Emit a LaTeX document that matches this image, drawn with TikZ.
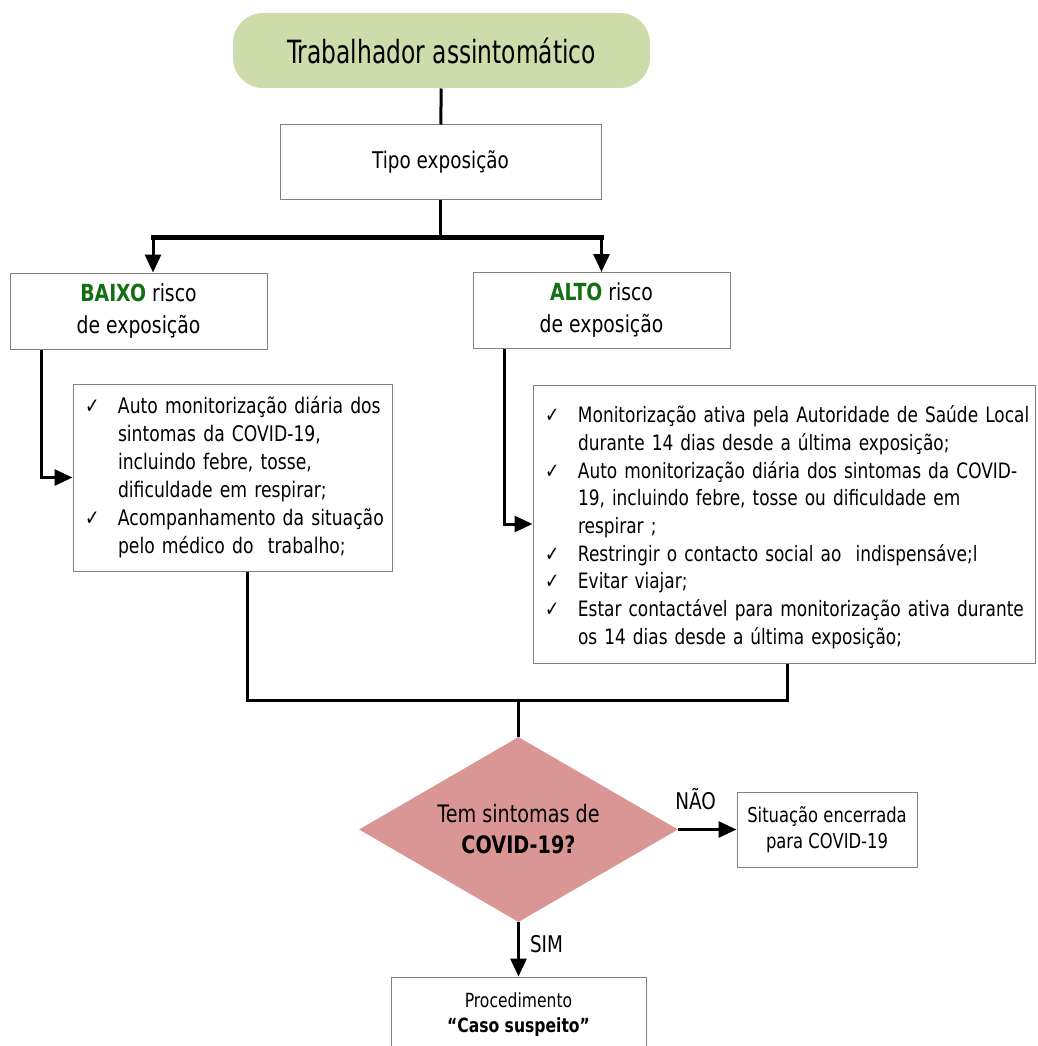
\documentclass[tikz,border=0pt]{standalone}
\usepackage{fontspec}
\setmainfont{DejaVu Sans}[FakeStretch=0.8]
\newfontfamily\titlefont{DejaVu Sans}[FakeStretch=0.73]
\usetikzlibrary{arrows.meta,shapes.geometric}
\definecolor{startgreen}{RGB}{206,220,172}
\definecolor{riskgreen}{RGB}{20,110,20}
\definecolor{decisionred}{RGB}{217,150,148}
\definecolor{boxgray}{RGB}{128,128,128}
\newcommand{\chk}{\makebox[33pt][l]{✓}}
\tikzset{
  box/.style={draw=boxgray, line width=1pt, fill=white, inner sep=0pt, align=center},
  listbox/.style={box, align=left, inner xsep=12pt, font=\fontsize{21.5}{28}\selectfont},
  flow/.style={line width=3pt},
  arrow/.style={flow, -{Triangle[length=18pt,width=16pt]}},
  answer/.style={inner sep=0pt, font=\fontsize{23}{26}\selectfont},
}
\begin{document}
\begin{tikzpicture}[x=1pt,y=-1pt]
      \clip (0,0) rectangle (1037,1046);
      \node[box, fill=startgreen, draw=none, rounded corners=30pt, minimum width=417pt, minimum height=75pt,
        font=\titlefont\fontsize{32}{36}\selectfont] (start) at (441.5,50.5) {Trabalhador assintomático};
      \node[box, minimum width=321pt, minimum height=74pt, font=\fontsize{23}{28}\selectfont]
        (tipo) at (440.5,162) {Tipo exposição};
      \node[box, minimum width=257pt, minimum height=76pt, font=\fontsize{23.5}{32}\selectfont]
        (baixo) at (138.5,311) {\textbf{\color{riskgreen}BAIXO} risco\\de exposição};
      \node[box, minimum width=257pt, minimum height=76pt, font=\fontsize{23.5}{32}\selectfont]
        (alto) at (601.5,310.5) {\textbf{\color{riskgreen}ALTO} risco\\de exposição};
      \node[listbox, text width=295pt, minimum height=187pt] (lowlist) at (232.5,477.5) {%
        \begin{tabular}{@{}l@{}l@{}}
          \chk & Auto monitorização diária dos\\
               & sintomas da COVID-19,\\
               & incluindo febre, tosse,\\
               & dificuldade em respirar;\\
          \chk & Acompanhamento da situação\\
               & pelo médico do \ trabalho;
        \end{tabular}};
      \node[listbox, text width=478pt, minimum height=278pt, inner ysep=4pt, font=\fontsize{21.2}{27.7}\selectfont]
        (highlist) at (784,524) {%
        \begin{tabular}{@{}l@{}l@{}}
          \chk & Monitorização ativa pela Autoridade de Saúde Local\\
               & durante 14 dias desde a última exposição;\\
          \chk & Auto monitorização diária dos sintomas da COVID-\\
               & 19, incluindo febre, tosse ou dificuldade em\\
               & respirar ;\\
          \chk & Restringir o contacto social ao \ indispensáve;l\\
          \chk & Evitar viajar;\\
          \chk & Estar contactável para monitorização ativa durante\\
               & os 14 dias desde a última exposição;\\[-8pt]
        \end{tabular}};
      \node[diamond, aspect=1.72, fill=decisionred, minimum width=319pt, minimum height=185pt, inner sep=0pt,
        align=center, font=\fontsize{24}{31}\selectfont] (symptoms) at (518.5,829.5)
        {Tem sintomas de\\\textbf{COVID-19?}};
      \node[box, minimum width=180pt, minimum height=75pt, font=\fontsize{20.5}{26}\selectfont]
        (closed) at (827,829.5) {Situação encerrada\\para COVID-19};
      \node[box, minimum width=255pt, minimum height=76pt, font=\fontsize{19.5}{25}\selectfont]
        (suspect) at (518.5,1015) {Procedimento\\\textbf{“Caso suspeito”}};
      \coordinate (splitL) at (153,237);
      \coordinate (splitR) at (alto.north |- splitL);
      \coordinate (join) at (symptoms.north |- 0,700);
      \begin{scope}[flow]
        \draw (start) -- (tipo);
        \draw (tipo) -- (tipo.south |- splitL);
        \draw[line width=5pt, line cap=rect] (splitL) -- (splitR);
        \draw[arrow] (splitL) -- (splitL |- baixo.north);
        \draw[arrow] (splitR) -- (alto.north);
        \draw[arrow] ([xshift=32pt]baixo.south west) |- (lowlist.west);
        \draw[arrow] ([xshift=32pt]alto.south west) |- (highlist.west);
        \draw ([xshift=14.5pt]lowlist.south) |- ([xshift=3pt]highlist.south |- join)
          -- ([xshift=3pt]highlist.south);
        \draw (join) -- (symptoms.north);
        \draw[arrow] (symptoms) -- node[answer, above=18pt, pos=0.3]{NÃO} (closed);
        \draw[arrow] (symptoms) -- node[answer, right=10pt, pos=0.4]{SIM} (suspect);
      \end{scope}
    \end{tikzpicture}
\end{document}
